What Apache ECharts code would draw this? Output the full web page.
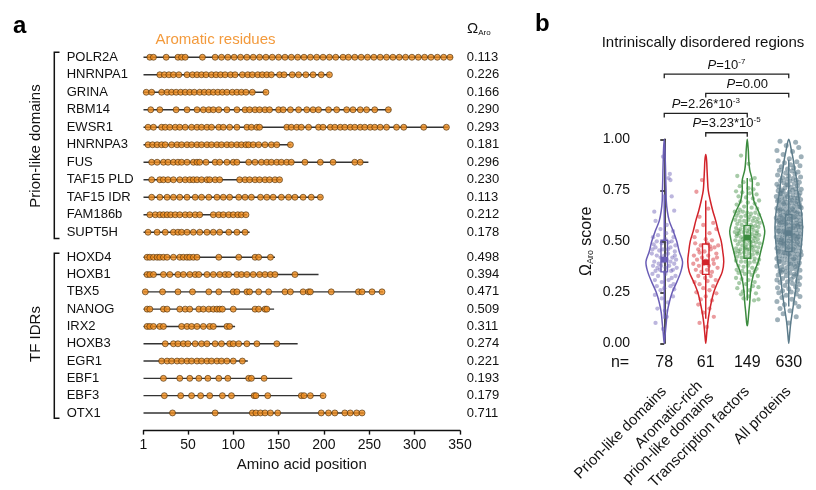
<!DOCTYPE html>
<html>
<head>
<meta charset="utf-8">
<script src="https://cdn.jsdelivr.net/npm/echarts@6.0.0/dist/echarts.min.js"></script>
<style>
  html, body { margin: 0; padding: 0; background: #fff; }
  #chart { width: 816px; height: 490px; }
</style>
</head>
<body>
<div id="chart"></div>
<script>
const FONT = 'Liberation Sans, Arial, Helvetica, sans-serif';

// ---- panel a data ----
const prionGenes = ['POLR2A', 'HNRNPA1', 'GRINA', 'RBM14', 'EWSR1', 'HNRNPA3', 'FUS', 'TAF15 PLD', 'TAF15 IDR', 'FAM186b', 'SUPT5H'];
const prionOmega = ['0.113', '0.226', '0.166', '0.290', '0.293', '0.181', '0.296', '0.230', '0.113', '0.212', '0.178'];
const prionLength = [342, 207, 137, 274, 337, 164, 249, 153, 198, 115, 118];
const prionAromatic = [
  [8, 12, 26, 39, 43, 47, 66, 80, 87, 94, 101, 108, 115, 122, 129, 136, 143, 150, 157, 164, 171, 178, 185, 192, 199, 206, 213, 221, 227, 234, 241, 248, 255, 262, 269, 276, 283, 290, 297, 304, 311, 318, 325, 332, 339],
  [19, 24, 29, 34, 40, 49, 55, 60, 65, 70, 76, 81, 86, 91, 97, 102, 110, 116, 121, 127, 132, 137, 142, 151, 156, 165, 172, 180, 188, 197, 206],
  [4, 10, 21, 27, 32, 37, 42, 47, 52, 57, 63, 68, 73, 78, 83, 88, 93, 99, 104, 109, 114, 121, 136],
  [9, 19, 37, 49, 60, 67, 73, 78, 84, 93, 104, 113, 118, 124, 129, 135, 140, 150, 155, 163, 172, 181, 188, 194, 205, 214, 225, 232, 240, 247, 256, 271],
  [6, 12, 21, 25, 30, 36, 41, 47, 54, 60, 65, 71, 76, 84, 89, 96, 104, 115, 120, 126, 129, 159, 164, 170, 175, 183, 194, 199, 207, 212, 218, 223, 229, 234, 240, 245, 251, 256, 262, 269, 280, 288, 310, 335],
  [6, 11, 16, 21, 25, 32, 38, 43, 49, 54, 60, 65, 71, 76, 82, 87, 93, 98, 104, 109, 114, 117, 122, 128, 135, 142, 148, 163],
  [10, 16, 23, 28, 34, 39, 43, 49, 56, 60, 63, 70, 80, 85, 93, 100, 104, 117, 124, 131, 137, 142, 148, 153, 159, 164, 179, 196, 210, 234, 240],
  [10, 19, 23, 28, 34, 41, 47, 52, 56, 60, 65, 71, 74, 80, 85, 107, 113, 118, 124, 129, 135, 140, 146, 151],
  [10, 19, 27, 34, 41, 49, 58, 65, 73, 82, 89, 96, 106, 113, 120, 130, 137, 144, 153, 161, 168, 177, 186, 196],
  [8, 14, 19, 23, 27, 31, 36, 41, 47, 52, 58, 63, 78, 84, 89, 95, 100, 105, 109, 114],
  [6, 16, 25, 34, 39, 43, 49, 56, 63, 71, 78, 85, 95, 104, 113]
];

const tfGenes = ['HOXD4', 'HOXB1', 'TBX5', 'NANOG', 'IRX2', 'HOXB3', 'EGR1', 'EBF1', 'EBF3', 'OTX1'];
const tfOmega = ['0.498', '0.394', '0.471', '0.509', '0.311', '0.274', '0.221', '0.193', '0.179', '0.711'];
const tfLength = [146, 194, 265, 145, 102, 171, 116, 165, 200, 244];
const tfAromatic = [
  [5, 8, 12, 16, 19, 23, 27, 34, 41, 45, 49, 52, 56, 60, 84, 106, 124, 128, 141],
  [5, 8, 12, 23, 30, 39, 45, 52, 58, 62, 71, 78, 85, 91, 95, 104, 109, 115, 122, 129, 135, 141, 146, 168],
  [3, 22, 39, 55, 73, 84, 100, 104, 115, 118, 128, 139, 157, 163, 177, 183, 185, 208, 238, 242, 253, 264],
  [5, 8, 23, 27, 41, 47, 52, 62, 67, 73, 78, 82, 85, 88, 100, 124, 128, 135, 137],
  [5, 8, 12, 19, 23, 43, 49, 54, 60, 67, 74, 78, 93, 96],
  [25, 34, 39, 45, 50, 58, 65, 71, 80, 87, 96, 100, 106, 115, 126, 148],
  [21, 27, 32, 38, 43, 49, 54, 60, 65, 71, 76, 82, 87, 93, 100, 110],
  [23, 41, 52, 62, 72, 84, 94, 117, 120, 134],
  [24, 42, 54, 64, 74, 88, 98, 123, 125, 138, 175, 178, 185, 199],
  [33, 80, 121, 125, 130, 135, 141, 149, 197, 205, 212, 223, 229, 236, 242]
];
const positionTicks = [1, 50, 100, 150, 200, 250, 300, 350];

// ---- panel b data ----
const groupNames = ['Prion-like domains', 'Aromatic-rich\nprion-like domains', 'Transcription factors', 'All proteins'];
const groupN = ['78', '61', '149', '630'];
const groupColors = ['#6a5db6', '#d2232a', '#3b8b3e', '#5d7c8b'];

// violin half-widths (px at reference band) at these score levels
const violinLevels = [0, 0.05, 0.1, 0.15, 0.2, 0.25, 0.3, 0.35, 0.4, 0.45, 0.5, 0.55, 0.6, 0.65, 0.7, 0.75, 0.8, 0.85, 0.9, 0.95, 1];
const violinWidth = [
  [0.3, 1, 2, 3, 5, 8, 12.5, 16.5, 18.3, 15, 12.5, 9, 5, 3, 2, 1.8, 1.5, 1.3, 1, 0.7, 0.3],
  [0.3, 1, 2, 3.5, 5.5, 8, 12, 16.5, 18, 17, 15.5, 12.5, 10, 7, 4.5, 2.5, 1.8, 1.3, 0.8, 0, 0],
  [0, 0, 0.6, 1.5, 2.5, 3.2, 4.5, 7, 11, 13.5, 16, 17.5, 15, 11, 6.5, 5, 5, 2.5, 1.5, 1, 0.3],
  [0.3, 1, 2, 3.5, 5, 6.5, 7.5, 9, 11, 12, 13, 13.7, 13.5, 12.5, 10.5, 9, 8, 6, 4.5, 2.5, 0.5]
];
const violinExtent = [[0, 1], [0, 0.925], [0.086, 1], [0, 1]];
// [lower whisker, q1, median, q3, upper whisker]
const boxStats = [
  [0.12, 0.35, 0.41, 0.505, 0.73],
  [0.12, 0.338, 0.397, 0.487, 0.70],
  [0.21, 0.417, 0.518, 0.577, 0.81],
  [0.18, 0.45, 0.54, 0.63, 0.90]
];

// points: [jitter (-1..1), score]
const prionPts = [
  [-0.1, 0.915], [0.45, 0.83], [0.35, 0.81], [0.5, 0.80], [-0.8, 0.645], [0.8, 0.65], [0.6, 0.72],
  [-0.7, 0.60], [0.2, 0.58], [-0.3, 0.56], [0.7, 0.55],
  [-0.9, 0.52], [-0.5, 0.53], [0.1, 0.51], [0.6, 0.50], [0.9, 0.48], [-0.2, 0.49], [-0.7, 0.47], [0.3, 0.46], [0.75, 0.52],
  [-0.95, 0.46], [0.15, 0.54], [-0.4, 0.455], [0.5, 0.47], [-0.1, 0.46], [0.85, 0.45], [-0.6, 0.50], [0.35, 0.495], [-0.85, 0.485],
  [-1.0, 0.44], [-0.6, 0.43], [-0.3, 0.42], [0.0, 0.43], [0.3, 0.44], [0.65, 0.42], [0.95, 0.41], [-0.8, 0.40], [-0.45, 0.39],
  [-0.15, 0.40], [0.2, 0.41], [0.5, 0.40], [0.8, 0.39], [-0.9, 0.38], [-0.55, 0.37], [-0.25, 0.38], [0.1, 0.37], [0.4, 0.38],
  [0.7, 0.36], [1.0, 0.37], [-0.7, 0.355], [-0.35, 0.36], [0.05, 0.35], [0.55, 0.355], [-0.05, 0.415], [0.85, 0.43],
  [-0.95, 0.34], [-0.5, 0.33], [0.1, 0.34], [0.6, 0.32], [0.9, 0.33], [-0.75, 0.31], [-0.2, 0.30], [0.35, 0.31], [0.75, 0.29],
  [-0.6, 0.28], [0.0, 0.27], [0.5, 0.28], [-0.3, 0.26], [0.8, 0.265],
  [-0.75, 0.237], [0.7, 0.23], [-0.2, 0.22], [0.3, 0.20], [-0.55, 0.17], [0.05, 0.16],
  [-0.7, 0.10], [0.2, 0.13], [-0.1, 0.07]
];
const aroPts = [
  [-0.3, 0.80], [-0.75, 0.743], [0.2, 0.66], [-0.5, 0.62],
  [0.6, 0.59], [-0.2, 0.58], [0.85, 0.56], [-0.7, 0.55], [0.3, 0.54], [-0.9, 0.52], [0.0, 0.51], [0.5, 0.505],
  [-0.85, 0.49], [-0.4, 0.48], [0.15, 0.49], [0.7, 0.47], [1.0, 0.48], [-0.6, 0.46], [-0.1, 0.45], [0.4, 0.46], [0.85, 0.44],
  [-0.95, 0.43], [-0.3, 0.42], [0.2, 0.43], [0.6, 0.41], [-0.7, 0.41], [0.0, 0.405], [0.9, 0.42], [-0.5, 0.445], [0.35, 0.475],
  [-1.0, 0.39], [-0.55, 0.38], [-0.15, 0.39], [0.25, 0.38], [0.65, 0.39], [0.95, 0.37], [-0.8, 0.36], [-0.35, 0.35],
  [0.1, 0.36], [0.5, 0.35], [-0.6, 0.33], [-0.05, 0.32], [0.4, 0.33], [0.8, 0.31], [-0.9, 0.30], [0.15, 0.305],
  [-0.5, 0.29], [0.6, 0.28], [-0.2, 0.27], [0.3, 0.26], [-0.75, 0.25], [0.85, 0.245], [0.0, 0.23], [-0.4, 0.215], [0.5, 0.21],
  [-0.6, 0.19], [0.3, 0.17], [-0.2, 0.15], [0.65, 0.13],
  [-0.5, 0.10], [0.1, 0.08]
];
const tfPts = [
  [-0.5, 0.92], [0.1, 0.88],
  [-0.8, 0.82], [0.6, 0.81], [0.3, 0.80], [-0.3, 0.79], [0.85, 0.78], [-0.6, 0.77], [0.1, 0.76], [0.5, 0.755],
  [-0.9, 0.745], [-0.4, 0.74], [0.2, 0.735], [0.75, 0.73], [-0.7, 0.72], [-0.1, 0.715], [0.45, 0.71], [0.95, 0.70],
  [-0.55, 0.695], [0.05, 0.69], [0.6, 0.685], [-0.85, 0.68], [-0.25, 0.67], [0.35, 0.665], [0.8, 0.66], [-0.6, 0.655],
  [-1.0, 0.645], [-0.7, 0.64], [-0.35, 0.645], [0.0, 0.64], [0.3, 0.635], [0.65, 0.64], [0.95, 0.63],
  [-0.85, 0.625], [-0.5, 0.62], [-0.15, 0.625], [0.2, 0.62], [0.55, 0.615], [0.85, 0.61],
  [-0.95, 0.605], [-0.6, 0.60], [-0.25, 0.60], [0.1, 0.605], [0.45, 0.60], [0.75, 0.595], [1.0, 0.59],
  [-0.8, 0.585], [-0.45, 0.58], [-0.05, 0.585], [0.3, 0.58], [0.65, 0.575], [0.9, 0.57],
  [-0.9, 0.565], [-0.55, 0.56], [-0.2, 0.565], [0.15, 0.56], [0.5, 0.555], [0.8, 0.55], [-0.7, 0.552], [0.0, 0.55], [0.4, 0.57],
  [-1.0, 0.545], [-0.65, 0.54], [-0.3, 0.545], [0.05, 0.54], [0.4, 0.535], [0.75, 0.54], [0.95, 0.53],
  [-0.85, 0.525], [-0.5, 0.52], [-0.15, 0.525], [0.2, 0.52], [0.55, 0.515], [0.85, 0.51],
  [-0.95, 0.505], [-0.6, 0.50], [-0.25, 0.50], [0.1, 0.505], [0.45, 0.50], [0.7, 0.495], [1.0, 0.49],
  [-0.75, 0.485], [-0.4, 0.48], [-0.05, 0.485], [0.3, 0.48], [0.6, 0.475], [0.9, 0.47],
  [-0.9, 0.465], [-0.55, 0.46], [-0.2, 0.465], [0.15, 0.46], [0.5, 0.455], [0.8, 0.45],
  [-0.7, 0.452], [0.0, 0.458], [0.35, 0.47], [-0.35, 0.51], [0.65, 0.525], [-0.8, 0.535], [0.25, 0.495], [-0.1, 0.47],
  [-0.95, 0.445], [-0.6, 0.44], [-0.25, 0.445], [0.1, 0.44], [0.45, 0.435], [0.8, 0.44],
  [-0.8, 0.425], [-0.45, 0.42], [-0.1, 0.425], [0.25, 0.42], [0.6, 0.415], [0.95, 0.41],
  [-0.9, 0.405], [-0.5, 0.40], [-0.15, 0.40], [0.2, 0.395], [0.55, 0.40], [0.85, 0.39],
  [-0.7, 0.38], [-0.3, 0.375], [0.05, 0.38], [0.4, 0.37], [0.75, 0.365],
  [-0.85, 0.36], [-0.4, 0.355], [0.15, 0.35], [0.6, 0.352],
  [-0.7, 0.345], [-0.2, 0.34], [0.35, 0.335], [0.85, 0.33], [-0.9, 0.32], [-0.45, 0.315], [0.1, 0.31], [0.6, 0.30],
  [-0.65, 0.295], [-0.1, 0.29], [0.45, 0.28], [0.9, 0.275], [-0.8, 0.27], [0.2, 0.26], [-0.35, 0.255],
  [0.7, 0.245], [-0.5, 0.24], [0.1, 0.23], [0.9, 0.215], [-0.3, 0.22], [0.55, 0.21]
];
const allPts = [
  [-0.7, 0.99], [0.55, 0.985], [-0.2, 0.97], [0.8, 0.96],
  [-0.95, 0.945], [0.3, 0.94], [-0.45, 0.925], [1.0, 0.915], [0.05, 0.905],
  [-0.85, 0.895], [0.65, 0.89], [-0.35, 0.885], [0.15, 0.875], [0.9, 0.87], [-0.6, 0.865], [0.4, 0.86], [-0.1, 0.855],
  [-0.75, 0.848], [0.25, 0.845], [0.75, 0.84], [-0.25, 0.835], [0.5, 0.83], [-0.9, 0.825], [0.0, 0.82], [0.95, 0.815],
  [-0.5, 0.812], [0.35, 0.808], [-0.15, 0.804], [0.6, 0.801],
  [-0.65, 0.798], [0.1, 0.795], [0.85, 0.79], [-0.4, 0.787], [0.45, 0.783], [-0.95, 0.78], [-0.05, 0.776], [0.7, 0.772],
  [-0.8, 0.768], [0.2, 0.765], [-0.3, 0.762], [0.55, 0.758], [1.0, 0.755], [-0.55, 0.752], [0.3, 0.75], [-0.15, 0.778],
  [-0.85, 0.748], [-0.45, 0.745], [0.05, 0.742], [0.6, 0.74], [0.9, 0.737], [-0.7, 0.733], [-0.2, 0.73], [0.35, 0.727],
  [0.8, 0.724], [-1.0, 0.72], [-0.55, 0.717], [0.15, 0.714], [0.5, 0.711], [-0.3, 0.708], [0.95, 0.705], [-0.8, 0.703],
  [0.25, 0.701], [-0.1, 0.72], [0.7, 0.712], [-0.6, 0.735],
  [-0.9, 0.698], [-0.5, 0.695], [-0.15, 0.692], [0.2, 0.69], [0.55, 0.687], [0.85, 0.684], [-0.75, 0.68], [-0.35, 0.677],
  [0.0, 0.674], [0.4, 0.671], [0.75, 0.668], [1.0, 0.665], [-0.95, 0.662], [-0.6, 0.659], [-0.25, 0.656], [0.1, 0.653],
  [0.45, 0.651], [0.9, 0.67], [-0.4, 0.685], [0.3, 0.66], [0.65, 0.695], [-0.7, 0.655],
  [-0.85, 0.648], [-0.45, 0.645], [-0.05, 0.642], [0.3, 0.64], [0.65, 0.637], [0.95, 0.634], [-0.7, 0.631], [-0.3, 0.628],
  [0.1, 0.625], [0.5, 0.622], [0.8, 0.619], [-1.0, 0.616], [-0.55, 0.613], [-0.2, 0.61], [0.2, 0.607], [0.6, 0.604],
  [0.9, 0.601], [-0.8, 0.603], [-0.4, 0.606], [0.05, 0.612], [0.4, 0.618], [0.7, 0.645], [-0.15, 0.635], [-0.65, 0.623],
  [-0.9, 0.598], [-0.5, 0.595], [-0.1, 0.593], [0.25, 0.59], [0.6, 0.588], [0.9, 0.585], [-0.75, 0.582], [-0.35, 0.58],
  [0.05, 0.577], [0.45, 0.575], [0.75, 0.572], [1.0, 0.57], [-0.95, 0.567], [-0.6, 0.565], [-0.2, 0.562], [0.15, 0.56],
  [0.55, 0.557], [0.85, 0.555], [-0.8, 0.552], [-0.4, 0.551], [0.0, 0.559], [0.35, 0.566], [0.7, 0.579], [-0.25, 0.586], [-0.65, 0.591],
  [-0.85, 0.548], [-0.45, 0.546], [-0.05, 0.543], [0.3, 0.541], [0.65, 0.538], [0.95, 0.536], [-0.7, 0.533], [-0.3, 0.531],
  [0.1, 0.528], [0.5, 0.526], [0.8, 0.523], [-1.0, 0.521], [-0.55, 0.518], [-0.15, 0.516], [0.2, 0.513], [0.6, 0.511],
  [0.9, 0.508], [-0.8, 0.506], [-0.4, 0.503], [0.0, 0.501], [0.4, 0.504], [0.7, 0.519], [-0.25, 0.539], [-0.6, 0.509], [0.35, 0.53],
  [-0.9, 0.498], [-0.5, 0.495], [-0.1, 0.492], [0.25, 0.49], [0.6, 0.487], [0.9, 0.484], [-0.75, 0.481], [-0.35, 0.478],
  [0.05, 0.475], [0.45, 0.472], [0.8, 0.469], [-0.95, 0.466], [-0.6, 0.463], [-0.2, 0.46], [0.15, 0.457], [0.55, 0.454],
  [0.95, 0.451], [-0.8, 0.453], [-0.4, 0.486], [0.35, 0.462], [0.7, 0.494], [-0.05, 0.47], [-0.65, 0.49],
  [-0.85, 0.448], [-0.45, 0.445], [-0.05, 0.442], [0.35, 0.44], [0.7, 0.437], [1.0, 0.434], [-0.7, 0.431], [-0.3, 0.428],
  [0.1, 0.425], [0.5, 0.422], [0.85, 0.419], [-0.95, 0.416], [-0.55, 0.413], [-0.15, 0.41], [0.25, 0.407], [0.6, 0.404],
  [-0.75, 0.402], [0.0, 0.436], [0.4, 0.415], [-0.35, 0.444],
  [-0.8, 0.398], [-0.4, 0.394], [0.0, 0.39], [0.4, 0.386], [0.75, 0.382], [-0.95, 0.378], [-0.55, 0.374], [-0.15, 0.37],
  [0.25, 0.366], [0.6, 0.362], [0.9, 0.358], [-0.7, 0.354], [-0.25, 0.351], [0.15, 0.388], [0.55, 0.376], [-0.5, 0.36], [0.85, 0.395],
  [-0.6, 0.348], [0.1, 0.344], [0.65, 0.34], [-0.85, 0.335], [-0.2, 0.331], [0.4, 0.327], [0.9, 0.322], [-0.5, 0.318],
  [0.2, 0.314], [-0.95, 0.31], [0.7, 0.306], [-0.1, 0.302], [0.45, 0.338],
  [-0.7, 0.298], [0.3, 0.293], [0.85, 0.288], [-0.3, 0.283], [0.55, 0.277], [-0.9, 0.272], [0.0, 0.267], [0.7, 0.262], [-0.5, 0.257], [0.2, 0.252],
  [-0.8, 0.248], [0.6, 0.242], [-0.2, 0.236], [0.9, 0.23], [-0.55, 0.224], [0.25, 0.216], [-0.95, 0.205],
  [0.5, 0.198], [-0.35, 0.19], [0.8, 0.18], [-0.7, 0.17], [0.1, 0.16],
  [-0.45, 0.145], [0.6, 0.13], [-0.9, 0.115], [0.0, 0.10]
];
const groupPts = [prionPts, aroPts, tfPts, allPts];

// significance brackets: [from group, to group, level on score scale]
const bracketPairs = [[0, 3, 1.319], [1, 3, 1.225], [0, 2, 1.127], [1, 2, 1.032]];
const bracketLabels = ['{i|P}=10{s|-7}', '{i|P}=0.00', '{i|P}=2.26*10{s|-3}', '{i|P}=3.23*10{s|-5}'];

// ---- helpers ----
function rowLine(params, api) {
  const s = api.coord([1, api.value(1)]);
  const e = api.coord([api.value(0), api.value(1)]);
  return {
    type: 'line',
    shape: { x1: s[0], y1: s[1], x2: e[0], y2: e[1] },
    style: { stroke: '#333', lineWidth: 1.4 }
  };
}

function dotData(lists) {
  const out = [];
  lists.forEach((list, row) => list.forEach(p => out.push([p, row])));
  return out;
}

function violinItem(params, api) {
  const g = params.dataIndex;
  const w = violinWidth[g];
  const ext = violinExtent[g];
  const k = api.size([1, 0])[0] / 41.5;
  const right = [api.coord([g, ext[0]])];
  const left = [];
  violinLevels.forEach((lv, i) => {
    if (lv > ext[0] && lv < ext[1]) {
      const c = api.coord([g, lv]);
      right.push([c[0] + w[i] * k, c[1]]);
      left.unshift([c[0] - w[i] * k, c[1]]);
    }
  });
  const pts = right.concat([api.coord([g, ext[1]])], left);
  return {
    type: 'polygon',
    shape: { points: pts, smooth: 0.35 },
    style: { fill: 'none', stroke: groupColors[g], lineWidth: 1.5 }
  };
}

function boxItem(params, api) {
  const g = params.dataIndex;
  const st = boxStats[g];
  const lo = api.coord([g, st[0]]), q1 = api.coord([g, st[1]]), md = api.coord([g, st[2]]);
  const q3 = api.coord([g, st[3]]), hi = api.coord([g, st[4]]);
  const bw = 6.5;
  const col = groupColors[g];
  return {
    type: 'group',
    children: [
      { type: 'line', shape: { x1: lo[0], y1: lo[1], x2: q1[0], y2: q1[1] }, style: { stroke: col, lineWidth: 1.5 } },
      { type: 'line', shape: { x1: q3[0], y1: q3[1], x2: hi[0], y2: hi[1] }, style: { stroke: col, lineWidth: 1.5 } },
      { type: 'rect', shape: { x: q3[0] - bw / 2, y: q3[1], width: bw, height: q1[1] - q3[1] }, style: { fill: 'none', stroke: col, lineWidth: 1.4 } },
      { type: 'rect', shape: { x: md[0] - bw / 2, y: md[1] - 2.8, width: bw, height: 5.6 }, style: { fill: col } }
    ]
  };
}

function bracketItem(params, api) {
  const b = bracketPairs[params.dataIndex];
  const a = api.coord([b[0], b[2]]);
  const c = api.coord([b[1], b[2]]);
  return {
    type: 'group',
    children: [
      {
        type: 'polyline',
        shape: { points: [[a[0], a[1] + 4], [a[0], a[1]], [c[0], c[1]], [c[0], c[1] + 4]] },
        style: { fill: 'none', stroke: '#222', lineWidth: 1.3 }
      },
      {
        type: 'text',
        x: (a[0] + c[0]) / 2, y: a[1] - 9,
        style: {
          text: bracketLabels[params.dataIndex],
          fontFamily: FONT, fontSize: 13, fill: '#111',
          align: 'center', verticalAlign: 'middle',
          rich: {
            i: { fontStyle: 'italic', fontFamily: FONT, fontSize: 13, fill: '#111' },
            s: { fontSize: 8, fontFamily: FONT, fill: '#111', verticalAlign: 'top', padding: [0, 0, 7, 0] }
          }
        }
      }
    ]
  };
}

const chart = echarts.init(document.getElementById('chart'), null, { renderer: 'canvas' });

const geneAxis = (data, grid) => ({
  type: 'category', gridIndex: grid, data: data, inverse: true,
  axisLine: { show: false }, axisTick: { show: false },
  axisLabel: { align: 'left', margin: 76.8, fontSize: 13, color: '#111', fontFamily: FONT, interval: 0 }
});
const omegaAxis = (data, grid) => ({
  type: 'category', gridIndex: grid, data: data, inverse: true, position: 'right',
  axisLine: { show: false }, axisTick: { show: false },
  axisLabel: { align: 'left', margin: 6.7, fontSize: 13, color: '#111', fontFamily: FONT, interval: 0 }
});

const dotStyle = { color: '#ef8b1c', borderColor: '#4a2e0a', borderWidth: 0.8 };

const option = {
  animation: false,
  backgroundColor: '#fff',
  textStyle: { fontFamily: FONT },
  grid: [
    { left: 143.5, width: 316.5, top: 48.5, height: 192.5, outerBoundsMode: 'none' },
    { left: 143.5, width: 316.5, top: 248.6, height: 173, outerBoundsMode: 'none' },
    { left: 643.5, width: 166, top: 139.3, height: 204, outerBoundsMode: 'none' }
  ],
  xAxis: [
    { type: 'value', gridIndex: 0, min: 1, max: 350, show: false },
    {
      type: 'value', gridIndex: 1, min: 1, max: 350, offset: 9,
      splitLine: { show: false },
      axisLine: { show: true, lineStyle: { color: '#111', width: 1.4 } },
      axisTick: { show: true, length: 4, lineStyle: { color: '#111', width: 1.4 }, customValues: positionTicks },
      axisLabel: { customValues: positionTicks, fontSize: 14, color: '#111', margin: 8, fontFamily: FONT },
      name: 'Amino acid position', nameLocation: 'middle', nameGap: 27,
      nameTextStyle: { fontSize: 15, color: '#111', fontFamily: FONT }
    },
    { type: 'value', gridIndex: 2, min: -0.5, max: 3.5, show: false, position: 'bottom' },
    {
      type: 'category', gridIndex: 2, data: groupN, position: 'bottom',
      axisLine: { show: false }, axisTick: { show: false },
      axisLabel: { interval: 0, fontSize: 16, color: '#111', margin: 11, fontFamily: FONT }
    },
    {
      type: 'category', gridIndex: 2, data: groupNames, position: 'bottom', offset: 36,
      axisLine: { show: false }, axisTick: { show: false },
      axisLabel: { interval: 0, rotate: 45, fontSize: 15, color: '#111', margin: 10, fontFamily: FONT, lineHeight: 16 }
    }
  ],
  yAxis: [
    geneAxis(prionGenes, 0),
    omegaAxis(prionOmega, 0),
    geneAxis(tfGenes, 1),
    omegaAxis(tfOmega, 1),
    {
      type: 'value', gridIndex: 2, min: 0, max: 1, interval: 0.25, offset: 6.5,
      splitLine: { show: false },
      axisLine: { show: true, lineStyle: { color: '#111', width: 1.5 } },
      axisTick: { show: true, length: 4, lineStyle: { color: '#111', width: 1.5 } },
      axisLabel: { formatter: v => v.toFixed(2), fontSize: 14, color: '#111', margin: 7, fontFamily: FONT },
      name: 'Ω{sub|Aro} score', nameLocation: 'middle', nameRotate: 90, nameGap: 42,
      nameTextStyle: {
        fontSize: 16, color: '#111', fontFamily: FONT,
        rich: { sub: { fontSize: 9, verticalAlign: 'bottom', fontFamily: FONT, padding: [6, 0, 0, 0] } }
      }
    }
  ],
  series: [
    {
      type: 'custom', xAxisIndex: 0, yAxisIndex: 0, renderItem: rowLine, z: 1,
      encode: { x: 0, y: 1 }, data: prionLength.map((l, i) => [l, i])
    },
    {
      type: 'custom', xAxisIndex: 1, yAxisIndex: 2, renderItem: rowLine, z: 1,
      encode: { x: 0, y: 1 }, data: tfLength.map((l, i) => [l, i])
    },
    {
      type: 'scatter', xAxisIndex: 0, yAxisIndex: 0, symbolSize: 6, z: 2,
      itemStyle: dotStyle, data: dotData(prionAromatic)
    },
    {
      type: 'scatter', xAxisIndex: 1, yAxisIndex: 2, symbolSize: 6, z: 2,
      itemStyle: dotStyle, data: dotData(tfAromatic)
    },
    ...groupPts.map((pts, g) => ({
      type: 'scatter', xAxisIndex: 2, yAxisIndex: 4, symbolSize: g === 3 ? 5 : 4.3, z: 2,
      itemStyle: { color: groupColors[g], opacity: g === 3 ? 0.6 : 0.45 },
      data: pts.map(p => [g + p[0] * 0.3, p[1]])
    })),
    {
      type: 'custom', xAxisIndex: 2, yAxisIndex: 4, renderItem: violinItem, z: 3,
      encode: { x: 0, y: [1, 2] }, data: violinExtent.map((e, i) => [i, e[0], e[1]])
    },
    {
      type: 'custom', xAxisIndex: 2, yAxisIndex: 4, renderItem: boxItem, z: 4,
      encode: { x: 0, y: [1, 2] }, data: boxStats.map((s, i) => [i, s[0], s[4]])
    },
    {
      type: 'custom', xAxisIndex: 2, yAxisIndex: 4, renderItem: bracketItem, z: 4, clip: false,
      encode: { x: [0, 1], y: 2 }, data: bracketPairs
    }
  ],
  graphic: [
    { type: 'text', left: 13, top: 14, style: { text: 'a', fontSize: 24, fontWeight: 'bold', fontFamily: FONT, fill: '#000' } },
    { type: 'text', left: 535, top: 12, style: { text: 'b', fontSize: 24, fontWeight: 'bold', fontFamily: FONT, fill: '#000' } },
    { type: 'text', x: 215.5, y: 40, style: { text: 'Aromatic residues', fontSize: 15, fill: '#f39a3c', fontFamily: FONT, align: 'center', verticalAlign: 'middle' } },
    {
      type: 'text', x: 467, y: 29,
      style: {
        text: 'Ω{s|Aro}', fontSize: 15, fill: '#111', fontFamily: FONT, align: 'left', verticalAlign: 'middle',
        rich: { s: { fontSize: 8, fontFamily: FONT, fill: '#111', verticalAlign: 'bottom', padding: [7, 0, 0, 0] } }
      }
    },
    { type: 'polyline', shape: { points: [[59.5, 52.3], [54.3, 52.3], [54.3, 238.5], [59.5, 238.5]] }, style: { fill: 'none', stroke: '#111', lineWidth: 1.5 } },
    { type: 'polyline', shape: { points: [[59.5, 253.3], [54.3, 253.3], [54.3, 418.3], [59.5, 418.3]] }, style: { fill: 'none', stroke: '#111', lineWidth: 1.5 } },
    { type: 'text', x: 36, y: 146, rotation: Math.PI / 2, style: { text: 'Prion-like domains', fontSize: 15, fill: '#111', fontFamily: FONT, align: 'center', verticalAlign: 'middle' } },
    { type: 'text', x: 36, y: 334, rotation: Math.PI / 2, style: { text: 'TF IDRs', fontSize: 15, fill: '#111', fontFamily: FONT, align: 'center', verticalAlign: 'middle' } },
    { type: 'text', x: 703, y: 43, style: { text: 'Intriniscally disordered regions', fontSize: 15, fill: '#111', fontFamily: FONT, align: 'center', verticalAlign: 'middle' } },
    { type: 'text', x: 620, y: 363, style: { text: 'n=', fontSize: 16, fill: '#111', fontFamily: FONT, align: 'center', verticalAlign: 'middle' } }
  ]
};

chart.setOption(option);
</script>
</body>
</html>
